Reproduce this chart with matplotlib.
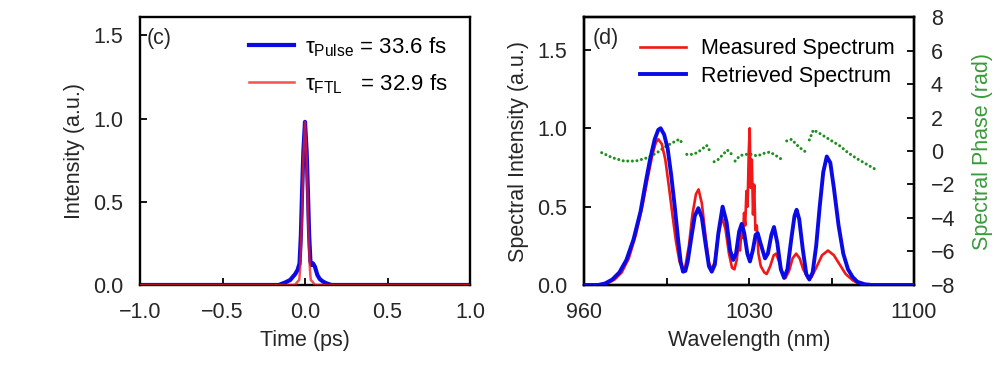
import numpy as np
import matplotlib
matplotlib.use("Agg")
import matplotlib.pyplot as plt
from matplotlib.ticker import FixedLocator, FixedFormatter

plt.rcParams['font.family'] = ['Liberation Sans', 'DejaVu Sans']
plt.rcParams['mathtext.fontset'] = 'custom'
plt.rcParams['mathtext.rm'] = 'Liberation Sans'
plt.rcParams['mathtext.it'] = 'Liberation Sans'
plt.rcParams['axes.unicode_minus'] = True

# ---------------- data: panel (c) ----------------
t_pulse = [-1.0, -0.16, -0.12, -0.09, -0.06, -0.045, -0.033, -0.025, -0.018, -0.01, 0.0,
           0.01, 0.018, 0.025, 0.033, 0.04, 0.048, 0.06, 0.075, 0.09, 0.11, 0.13, 0.16, 1.0]
I_pulse = [0, 0, 0.015, 0.03, 0.065, 0.09, 0.13, 0.3, 0.55, 0.8, 0.98,
           0.8, 0.55, 0.3, 0.14, 0.12, 0.13, 0.11, 0.06, 0.035, 0.02, 0.01, 0, 0]
t_ftl = [-1.0, -0.06, -0.045, -0.035, -0.03, -0.02, -0.01, 0.0, 0.01, 0.02, 0.03, 0.035, 0.045, 0.06, 1.0]
I_ftl = [0, 0, 0.02, 0.03, 0.09, 0.35, 0.76, 0.98, 0.76, 0.35, 0.09, 0.03, 0.02, 0, 0]

label_pulse = r'$\tau_{\mathrm{Pulse}}$ = 33.6 fs'
label_ftl = r'$\tau_{\mathrm{FTL}}$   = 32.9 fs'

# ---------------- data: panel (d) ----------------
wl_ret = [960, 966, 969, 972, 975, 978, 981, 984, 986, 988, 990, 991.5, 992.5, 994, 995.5, 997,
          998.5, 1000, 1001, 1002, 1003, 1004, 1005.5, 1007, 1008.5, 1010, 1011.5, 1013, 1014.2,
          1015.5, 1017, 1018.8, 1020.5, 1022, 1023.3, 1024.5, 1025.8, 1026.9, 1028, 1029.3, 1030.4,
          1031.6, 1032.8, 1033.7, 1035, 1036.8, 1038, 1039.5, 1040.6, 1042, 1043.5, 1044.9, 1046.3,
          1048, 1049.3, 1050.2, 1051.3, 1052.8, 1054.3, 1055.6, 1057, 1058.5, 1060, 1061.5, 1063,
          1064.5, 1066, 1068, 1070, 1072, 1074, 1076, 1079, 1082, 1100]
sp_ret = [0, 0, 0.01, 0.035, 0.08, 0.16, 0.29, 0.47, 0.64, 0.80, 0.93, 0.99, 1.0, 0.96, 0.87, 0.70,
          0.50, 0.28, 0.15, 0.085, 0.09, 0.15, 0.30, 0.44, 0.49, 0.43, 0.27, 0.12, 0.085,
          0.13, 0.33, 0.50, 0.40, 0.22, 0.16, 0.20, 0.34, 0.39, 0.33, 0.20, 0.15,
          0.22, 0.32, 0.33, 0.26, 0.17, 0.20, 0.32, 0.37, 0.27, 0.10, 0.045, 0.10,
          0.30, 0.44, 0.48, 0.42, 0.23, 0.07, 0.035, 0.08, 0.25, 0.50, 0.72, 0.82,
          0.78, 0.62, 0.38, 0.20, 0.10, 0.05, 0.02, 0.005, 0, 0]

wl_meas = [960, 967, 970, 973, 976, 979, 982, 985, 987, 989, 990.5, 991.5, 993, 994.5, 996, 997.5,
           999, 1000.5, 1001.8, 1003, 1004.5, 1006, 1007.5, 1008.6, 1010, 1011.5, 1013, 1014.2,
           1015.5, 1017, 1018.5, 1020, 1021.5, 1022.8, 1023.8, 1024.8, 1025.5, 1026.2, 1026.8,
           1027.4, 1027.9, 1028.4, 1028.9, 1029.4, 1029.9, 1030.3, 1030.7, 1031.2, 1031.7, 1032.2,
           1032.7, 1033.3, 1034, 1035, 1036.5, 1037.5, 1039, 1040.5, 1041.5, 1043, 1044.5, 1045.5,
           1047, 1048.5, 1050, 1051.5, 1053, 1055, 1056.5, 1058.5, 1061, 1063.5, 1066, 1068.5,
           1071, 1074, 1077, 1080, 1100]
sp_meas = [0, 0, 0.01, 0.035, 0.08, 0.17, 0.32, 0.52, 0.68, 0.83, 0.91, 0.93, 0.90, 0.80, 0.63, 0.45,
           0.28, 0.15, 0.10, 0.12, 0.25, 0.45, 0.58, 0.61, 0.52, 0.32, 0.14, 0.10,
           0.15, 0.32, 0.43, 0.36, 0.20, 0.11, 0.10, 0.16, 0.25, 0.22, 0.35,
           0.30, 0.46, 0.38, 0.60, 0.50, 0.85, 1.0, 0.62, 0.80, 0.45, 0.64,
           0.35, 0.38, 0.20, 0.12, 0.08, 0.07, 0.12, 0.19, 0.20, 0.14, 0.06, 0.045,
           0.09, 0.17, 0.20, 0.17, 0.10, 0.045, 0.05, 0.11, 0.19, 0.22, 0.19, 0.13,
           0.07, 0.03, 0.005, 0, 0]

wl_phase = [967.5, 972, 977, 982, 987, 991, 995, 999, 1000.5, 1002, np.nan,
            1003.6, 1006, 1008, 1010, 1012, 1013.4, np.nan,
            1015.2, 1017, 1019, 1020.8, 1022.7, np.nan,
            1024.1, 1026, 1028, 1031, 1033.6, 1036, 1038.9, 1041.7, 1044.3, np.nan,
            1046, 1048.1, 1050, 1052, 1054.5, np.nan,
            1055.6, 1057.3, 1060, 1064, 1068.6, 1072, 1075.7, 1080, 1084.2]
phase = [-0.1, -0.4, -0.6, -0.6, -0.4, -0.1, 0.3, 0.6, 0.7, 0.4, np.nan,
         -0.2, -0.2, -0.1, 0.1, 0.34, 0.0, np.nan,
         -0.64, -0.5, -0.2, 0.06, -0.2, np.nan,
         -0.6, -0.3, -0.2, -0.2, -0.3, -0.15, -0.06, -0.3, -0.54, np.nan,
         0.6, 0.7, 0.4, 0.15, -0.1, np.nan,
         0.66, 1.26, 1.05, 0.7, 0.3, -0.1, -0.45, -0.8, -1.14]

FS = 15.5
TXT = '#262626'
BLUE = '#0a0ae6'
RED = '#f01818'
GREEN = '#1f8f1f'

fig = plt.figure(figsize=(10, 3.65), dpi=100)

def style(ax):
    for s in ax.spines.values():
        s.set_linewidth(1.7)
    ax.tick_params(direction='in', length=5, width=1.3, labelsize=FS, colors='black',
                   labelcolor=TXT, pad=12)

# ---------------- panel (c) ----------------
ax1 = fig.add_axes([0.14, 0.2192, 0.33, 0.7342])
ax1.plot(t_pulse, I_pulse, color=BLUE, lw=3.0, label=label_pulse, zorder=2)
ax1.plot(t_ftl, I_ftl, color=RED, lw=1.8, alpha=0.75, label=label_ftl, zorder=3)
ax1.set_xlim(-1.0, 1.0)
ax1.set_ylim(0, 1.61)
ax1.set_xticks([-1.0, -0.5, 0.0, 0.5, 1.0])
ax1.set_yticks([0.0, 0.5, 1.0, 1.5])
ax1.xaxis.set_major_formatter(FixedFormatter(['\u22121.0', '\u22120.5', '0.0', '0.5', '1.0']))
style(ax1)
ax1.set_xlabel('Time (ps)', fontsize=FS, color=TXT, labelpad=5)
ax1.set_ylabel('Intensity (a.u.)', fontsize=FS, color=TXT, labelpad=6)
ax1.text(0.02, 0.92, '(c)', transform=ax1.transAxes, fontsize=FS, color=TXT, va='center')
ax1.legend(loc='upper left', bbox_to_anchor=(0.304, 0.965), frameon=False, fontsize=16,
           handlelength=2.0, labelspacing=0.6, borderaxespad=0.0, handletextpad=0.5)

# ---------------- panel (d) ----------------
ax2 = fig.add_axes([0.584, 0.2192, 0.33, 0.7342])
ax2.plot(wl_meas, sp_meas, color=RED, lw=1.9, label='Measured Spectrum', zorder=2)
ax2.plot(wl_ret, sp_ret, color=BLUE, lw=2.8, label='Retrieved Spectrum', zorder=3)
ax2.set_xlim(960, 1100)
ax2.set_ylim(0, 1.71)
ax2.xaxis.set_major_locator(FixedLocator([960, 995, 1030, 1065, 1100]))
ax2.xaxis.set_major_formatter(FixedFormatter(['960', '', '1030', '', '1100']))
ax2.set_yticks([0.0, 0.5, 1.0, 1.5])
style(ax2)
ax2.set_xlabel('Wavelength (nm)', fontsize=FS, color=TXT, labelpad=5)
ax2.set_ylabel('Spectral Intensity (a.u.)', fontsize=FS, color=TXT, labelpad=6)
ax2.text(0.025, 0.92, '(d)', transform=ax2.transAxes, fontsize=FS, color=TXT, va='center')
ax2.legend(loc='upper left', bbox_to_anchor=(0.145, 0.953), frameon=False, fontsize=FS,
           handlelength=2.1, labelspacing=0.3, borderaxespad=0.0, handletextpad=0.7)

ax3 = ax2.twinx()
ax3.plot(wl_phase, phase, color=GREEN, lw=2.2, linestyle=(0, (0.01, 1.5)),
         dash_capstyle='round', zorder=1)
ax3.set_ylim(-8, 8)
ax3.set_yticks(np.arange(-8, 9, 2))
style(ax3)
ax3.set_ylabel('Spectral Phase (rad)', fontsize=FS, color='#3a9a3a', labelpad=12)
ax3.set_zorder(ax2.get_zorder() - 1)
ax2.patch.set_visible(False)

fig.savefig('out.png', dpi=100, facecolor='white')
